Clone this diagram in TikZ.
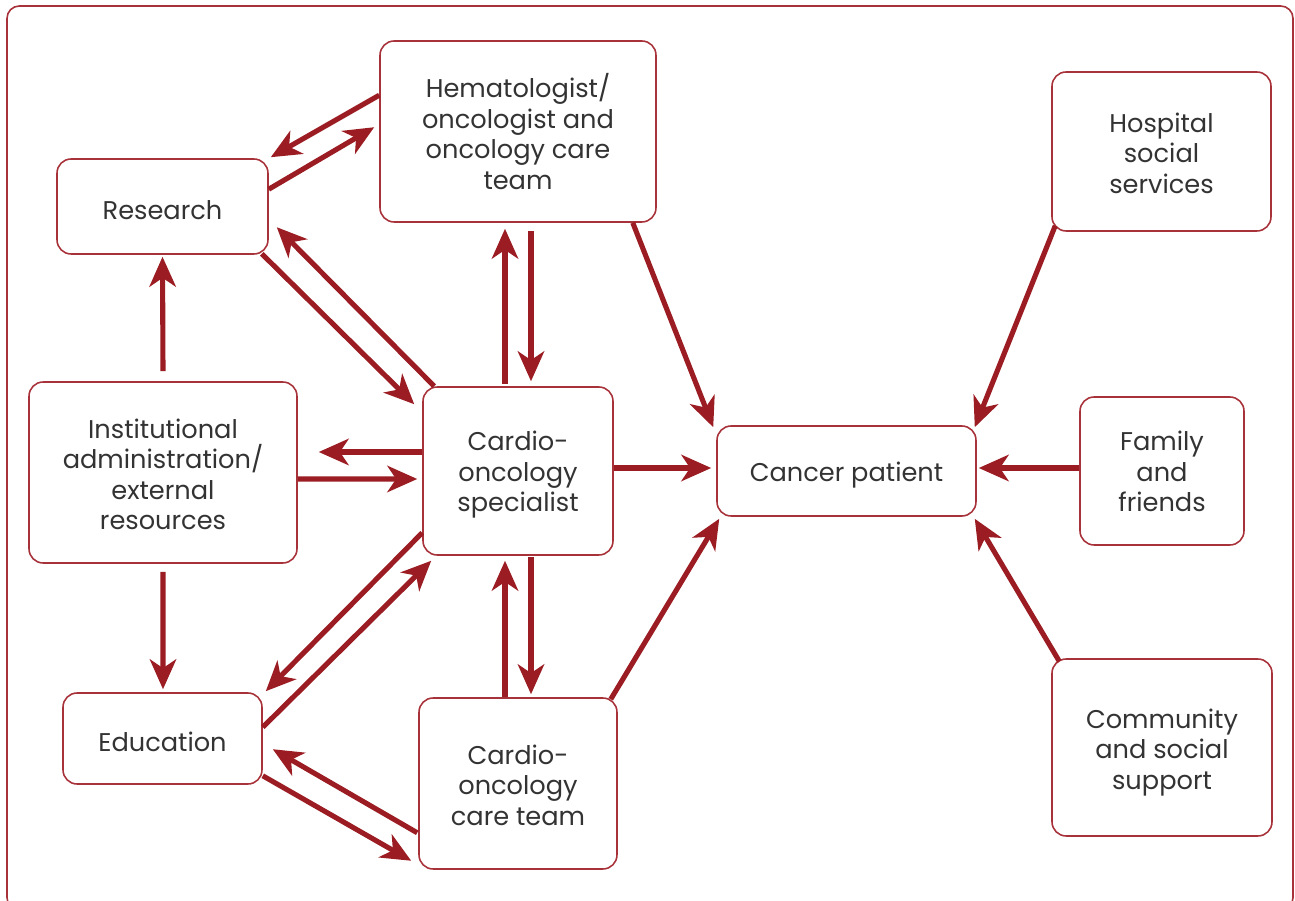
\documentclass[tikz,border=0pt]{standalone}
\usepackage{fontspec}
\setmainfont{Poppins}
\usetikzlibrary{arrows.meta,calc}
\definecolor{dred}{HTML}{9B1C22}
\definecolor{bred}{HTML}{A8323A}
\definecolor{txt}{HTML}{333333}
\newcommand{\up}[1]{\rule{0pt}{#1}}
\tikzset{
  box/.style={draw=bred, line width=0.9pt, rounded corners=8pt, align=center,
    text=txt, font={\fontsize{14.6}{17.4}\selectfont}, inner sep=2pt},
  low/.style={execute at begin node={\rule{0pt}{15.3pt}}},
  arr/.style={draw=dred, line width=2.9pt, -{Stealth[length=17pt,width=15pt,inset=5pt]}},
}
\begin{document}
\begin{tikzpicture}[x=0.02cm,y=-0.02cm]
\useasboundingbox (0,0) rectangle (1295,901);
\clip (0,0) rectangle (1295,901);
\draw[bred, line width=0.9pt, rounded corners=7pt] (7,6) rectangle (1293,910);

\node[box, minimum width=5.52cm, minimum height=3.62cm] (hem) at (518,131.5) {Hematologist/\\oncologist and\\oncology care\\team};
\node[box, low, minimum width=4.22cm, minimum height=1.9cm] (res) at (162.5,206.5) {Research};
\node[box, minimum width=5.36cm, minimum height=3.62cm] (inst) at (163,472.5) {\up{13.1pt}Institutional\\administration/\\external\\resources};
\node[box, minimum width=3.8cm, minimum height=3.36cm] (spec) at (518,471) {\up{15.5pt}Cardio-\\oncology\\specialist};
\node[box, low, minimum width=3.98cm, minimum height=1.82cm] (edu) at (162.5,738.5) {Education};
\node[box, minimum width=3.96cm, minimum height=3.42cm] (team) at (518,783.5) {\up{13.1pt}Cardio-\\oncology\\care team};
\node[box, low, minimum width=5.18cm, minimum height=1.8cm] (pat) at (846.5,471) {Cancer patient};
\node[box, minimum width=4.38cm, minimum height=3.18cm] (hosp) at (1161.5,151.5) {\up{13.1pt}Hospital\\social\\services};
\node[box, minimum width=3.28cm, minimum height=2.96cm] (fam) at (1162,471) {\up{11.9pt}Family\\and\\friends};
\node[box, minimum width=4.4cm, minimum height=3.54cm] (comm) at (1162,747.5) {\up{16.5pt}Community\\and social\\support};

% research <-> hematologist
\draw[arr] ($(hem.north west)+(0,55)$) -- ($(res.north east)+(2,-1)$);
\draw[arr] ($(res.north east)+(0,31)$) -- ($(hem.north west)+(-5,87)$);
% research <-> specialist
\draw[arr] ($(res.south east)+(-7,-1)$) -- ($(spec.north west)+(-8,18)$);
\draw[arr] ($(spec.north west)+(12,0)$) -- ($(res.north east)+(8,69)$);
% hematologist <-> specialist
\draw[arr] ($(hem.south)+(13,8)$) -- ($(spec.north)+(13,-5)$);
\draw[arr] ($(spec.north)+(-13,-2)$) -- ($(hem.south)+(-13,6)$);
% hematologist -> patient
\draw[arr] ($(hem.south east)+(-24,0)$) -- ($(pat.north west)+(-3,2)$);
% institutional -> research
\draw[arr] ($(inst.north)+(0,-10)$) -- ($(res.south)+(0,2)$);
% specialist <-> institutional
\draw[arr] ($(spec.west)+(0,-19)$) -- ($(inst.east)+(21,-20.5)$);
\draw[arr] ($(inst.east)+(0,6.5)$) -- ($(spec.west)+(-5,8)$);
% specialist -> patient
\draw[arr] ($(spec.east)+(0,-3)$) -- ($(pat.west)+(-5,-3)$);
% institutional -> education
\draw[arr] ($(inst.south)+(0,8)$) -- ($(edu.north)+(0.5,-3)$);
% specialist <-> education
\draw[arr] ($(spec.south west)+(0,-23)$) -- ($(edu.north east)+(3,-1)$);
\draw[arr] ($(edu.north east)+(0,35)$) -- ($(spec.south west)+(9,5)$);
% specialist <-> care team
\draw[arr] ($(spec.south)+(13,1)$) -- ($(team.north)+(13,-3)$);
\draw[arr] ($(team.north)+(-13,0)$) -- ($(spec.south)+(-13,5)$);
% care team <-> education
\draw[arr] ($(team.south west)+(-1,-37)$) -- ($(edu.north east)+(10,57)$);
\draw[arr] ($(edu.south east)+(0,-9)$) -- ($(team.south west)+(-7,-9)$);
% care team -> patient
\draw[arr] ($(team.north east)+(-7,2)$) -- ($(pat.south west)+(3,2)$);
% right side -> patient
\draw[arr] ($(hosp.south west)+(4,-6)$) -- ($(pat.north east)+(-2,2)$);
\draw[arr] ($(fam.west)+(0,-3)$) -- ($(pat.east)+(2,-3)$);
\draw[arr] ($(comm.north west)+(8,3)$) -- ($(pat.south east)+(-2,2)$);
\end{tikzpicture}
\end{document}
